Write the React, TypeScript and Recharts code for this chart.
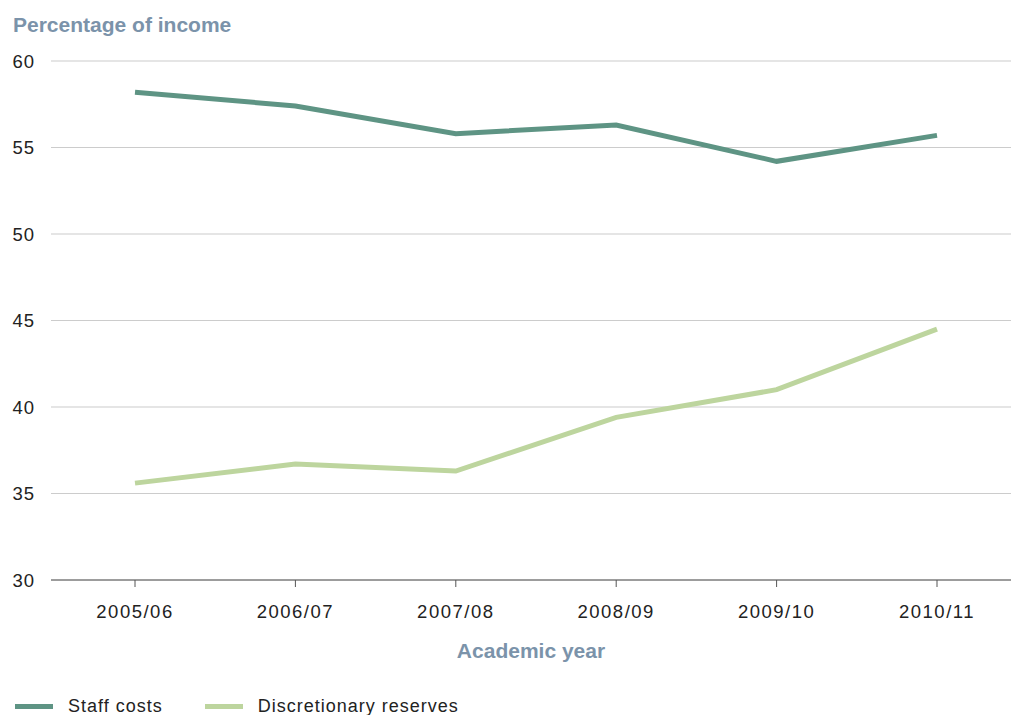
import { LineChart, Line, XAxis, YAxis, CartesianGrid, Legend } from 'recharts';

const years = ['2005/06', '2006/07', '2007/08', '2008/09', '2009/10', '2010/11'];
const staffCosts = [58.2, 57.4, 55.8, 56.3, 54.2, 55.7];
const discretionaryReserves = [35.6, 36.7, 36.3, 39.4, 41.0, 44.5];
const yTicks = [30, 35, 40, 45, 50, 55, 60];

const series = [
  { key: 'staff', name: 'Staff costs', color: '#5e9484' },
  { key: 'reserves', name: 'Discretionary reserves', color: '#bdd59e' },
];

const FONT = '"Liberation Sans", Arial, Helvetica, sans-serif';
const TITLE_COLOR = '#7b93aa';

function LegendContent() {
  return (
    <div
      style={{
        display: 'flex',
        alignItems: 'center',
        fontFamily: FONT,
        fontSize: 18,
        letterSpacing: 1,
        color: '#222',
        paddingTop: 5,
      }}
    >
      {series.map((s, i) => (
        <div key={s.key} style={{ display: 'flex', alignItems: 'center', marginLeft: i === 0 ? 15 : 42 }}>
          <span style={{ display: 'inline-block', width: 38, height: 5, background: s.color, marginRight: 15 }} />
          <span>{s.name}</span>
        </div>
      ))}
    </div>
  );
}

export default function App() {
  const data = years.map((year, i) => ({
    year,
    staff: staffCosts[i],
    reserves: discretionaryReserves[i],
  }));

  return (
    <div style={{ position: 'absolute', left: 0, top: 0, width: 1011, height: 715, background: '#fff' }}>
      <div
        style={{
          position: 'absolute',
          left: 13,
          top: 13,
          fontFamily: FONT,
          fontWeight: 'bold',
          fontSize: 21,
          color: TITLE_COLOR,
          zIndex: 2,
        }}
      >
        Percentage of income
      </div>
      <LineChart width={1011} height={715} data={data} margin={{ top: 61, right: 0, left: 0, bottom: 0 }}>
        <CartesianGrid vertical={false} stroke="#cccccc" strokeWidth={1.2} />
        <XAxis
          dataKey="year"
          height={111}
          padding={{ left: 84, right: 74 }}
          stroke="#555"
          tickSize={7}
          tickMargin={18}
          tick={{ fill: '#222', fontSize: 18.5, fontFamily: FONT, letterSpacing: 1.5 }}
          label={{
            value: 'Academic year',
            position: 'insideTop',
            offset: 63,
            fill: TITLE_COLOR,
            fontSize: 21,
            fontWeight: 'bold',
            fontFamily: FONT,
          }}
        />
        <YAxis
          width={51}
          domain={[30, 60]}
          ticks={yTicks}
          axisLine={false}
          tickLine={false}
          tickSize={0}
          tickMargin={16}
          tick={{ fill: '#222', fontSize: 18.5, fontFamily: FONT, letterSpacing: 1 }}
        />
        <Legend verticalAlign="bottom" align="left" height={24} content={<LegendContent />} />
        {series.map((s) => (
          <Line
            key={s.key}
            type="linear"
            dataKey={s.key}
            name={s.name}
            stroke={s.color}
            strokeWidth={5}
            dot={false}
            activeDot={false}
            isAnimationActive={false}
          />
        ))}
      </LineChart>
    </div>
  );
}
